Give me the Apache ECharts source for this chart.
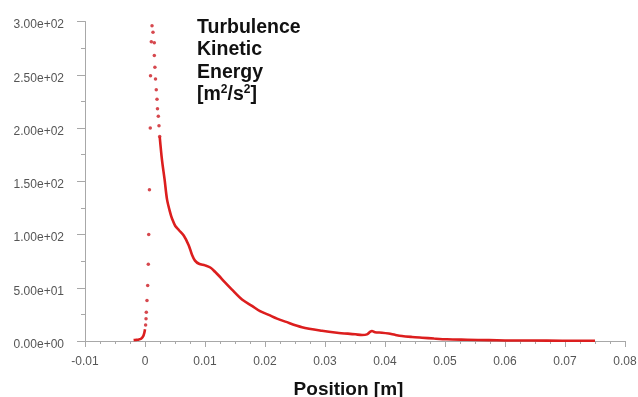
<!DOCTYPE html>
<html>
<head>
<meta charset="utf-8">
<script src="https://cdn.jsdelivr.net/npm/echarts@6/dist/echarts.min.js"></script>
<style>
html,body{margin:0;padding:0;background:#fff;}
#c{width:638px;height:397px;}
</style>
</head>
<body>
<div id="c"></div>
<script>
// Near-zero cluster (upstream of the peak)
const clusterX = [-0.0019,-0.0016,-0.0013,-0.001,-0.0007,-0.0005,-0.0003,-0.0002,-0.0001,0];
const clusterY = [0.8,1,1.2,1.5,2,3,4.5,6,8,11];
// Sparse rising branch
const riseX = [0.0001,0.00017,0.00022,0.00033,0.00045,0.00055,0.00062,0.00074,0.00088,0.00092,0.00105,0.00117];
const riseY = [15,21,27,38,52,72,100,142,200,249,281,296];
// Sparse upper descending branch
const fallX = [0.00133,0.00155,0.00155,0.00165,0.00175,0.00188,0.002,0.00208,0.00222,0.00233,0.00245];
const fallY = [290,280,268,257,246,236,227,218,211,202,192];
// Dense decaying branch
const tailX = [0.00245,0.00283,0.00328,0.00367,0.00422,0.0045,0.00505,0.00567,0.00645,0.00728,0.00783,0.00833,0.009,0.01,0.01088,0.01167,0.01228,0.01333,0.01445,0.01617,0.01783,0.01917,0.02062,0.022,0.02338,0.02617,0.0295,0.032,0.03505,0.03617,0.037,0.0375,0.03783,0.03833,0.0395,0.04062,0.04167,0.04283,0.0445,0.04617,0.04817,0.05033,0.05367,0.05733,0.06,0.0645,0.0695,0.075];
const tailY = [192,170,151,133,120,115,108,104,99,90,81,75.5,72.5,71,69,65,61.5,55,48.5,39,33,28,24.5,21,18.2,13,9.6,7.8,6.3,5.6,6.2,8.5,9.4,8.2,7.8,7,5.8,4.7,3.8,3.1,2.3,1.6,1.2,0.8,0.5,0.4,0.3,0.2];
// Axis ticks
const xMin = -0.01, xMax = 0.08, xStep = 0.01;
const yMin = 0, yMax = 300, yStep = 50;

const zip = (a, b) => a.map((v, i) => [v, b[i]]);
const red = '#dc1e1e';
const font = 'Liberation Sans, Arial, sans-serif';

const chart = echarts.init(document.getElementById('c'));
chart.setOption({
  animation: false,
  backgroundColor: '#fff',
  title: {
    left: 197, top: 16, padding: 0,
    text: '{b|Turbulence}\n{b|Kinetic}\n{b|Energy}\n{b|[m}{s|2}{b|/s}{s|2}{b|]}',
    textStyle: {
      rich: {
        b: {fontFamily: font, fontWeight: 'bold', fontSize: 19.5, color: '#111', lineHeight: 22.5},
        s: {fontFamily: font, fontWeight: 'bold', fontSize: 12, color: '#111', lineHeight: 22.5, verticalAlign: 'top'}
      }
    }
  },
  grid: {left: 85, right: 13, top: 21.5, bottom: 56, containLabel: false, outerBoundsMode: 'none'},
  xAxis: {
    type: 'value', min: xMin, max: xMax, interval: xStep,
    name: 'Position [m]', nameLocation: 'middle', nameGap: 39,
    nameTextStyle: {fontFamily: font, fontWeight: 'bold', fontSize: 19, color: '#111', padding: [0, 13, 0, 0]},
    axisLine: {onZero: false, lineStyle: {color: '#a8a8a8', width: 1}},
    axisTick: {show: true, length: 6, lineStyle: {color: '#a8a8a8'}},
    minorTick: {show: true, splitNumber: 4, length: 3, lineStyle: {color: '#a8a8a8'}},
    splitLine: {show: false},
    axisLabel: {
      margin: 15, color: '#555', fontSize: 12, fontFamily: font,
      formatter: v => { const r = Math.round(v * 100) / 100; return r === 0 ? '0' : String(r); }
    }
  },
  yAxis: {
    type: 'value', min: yMin, max: yMax, interval: yStep,
    axisLine: {show: true, onZero: false, lineStyle: {color: '#a8a8a8', width: 1}},
    axisTick: {show: true, length: 8, lineStyle: {color: '#a8a8a8'}},
    minorTick: {show: true, splitNumber: 2, length: 4, lineStyle: {color: '#a8a8a8'}},
    splitLine: {show: false},
    axisLabel: {
      margin: 21, color: '#555', fontSize: 12, fontFamily: font,
      formatter: v => '{a|' + v.toExponential(2).replace(/e([+-])(\d+)$/, (m, s, d) => 'e' + s + (d.length < 2 ? '0' + d : d)) + '}',
      rich: {a: {color: '#555', fontSize: 12, fontFamily: font, padding: [7, 0, 0, 0]}}
    }
  },
  series: [
    {type: 'line', data: zip(clusterX, clusterY), showSymbol: false, smooth: 0.3, lineStyle: {color: red, width: 2.6}},
    {type: 'scatter', data: zip(riseX, riseY), symbolSize: 3.5, itemStyle: {color: '#cc1a22'}},
    {type: 'scatter', data: zip(fallX, fallY), symbolSize: 3.5, itemStyle: {color: '#cc1a22'}},
    {type: 'line', data: zip(tailX, tailY), showSymbol: false, smooth: 0.3, lineStyle: {color: red, width: 2.6}}
  ]
});
</script>
</body>
</html>
